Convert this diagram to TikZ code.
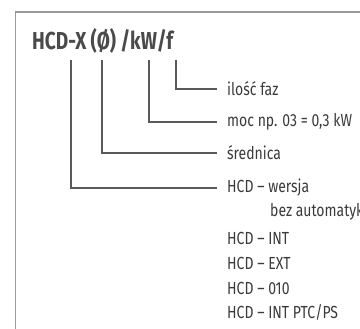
\documentclass[tikz,border=0pt]{standalone}
\usepackage{fontspec}
\setmainfont{Fira Sans}[FakeStretch=0.78]
\newfontfamily\lblfont{Fira Sans}[FakeStretch=0.8]
\definecolor{boxgray}{HTML}{9A9A9A}
\definecolor{linegray}{HTML}{5A5A5A}
\definecolor{txtgray}{HTML}{3A3A3A}
\definecolor{titlegray}{HTML}{4A4A4A}
\begin{document}
\begin{tikzpicture}[x=1pt,y=-1pt,
  lbl/.style={anchor=west,inner sep=0pt,text=txtgray,font=\lblfont\fontsize{17.5}{19}\selectfont},
  conn/.style={draw=linegray,line width=2pt},
  frame/.style={draw=boxgray,line width=1.5pt}]
\useasboundingbox (0,0) rectangle (360,329);
\begin{scope}
\clip (0,0) rectangle (360,329);
\draw[frame] (15.5,340) -- (15.5,12) -- (370,12);
\node[anchor=base west,inner sep=0pt,text=titlegray,font=\fontsize{24.5}{26}\selectfont\bfseries] (title) at (32,50) {HCD-X\,(Ø)\,/kW/f};
\coordinate (cX) at (71,60);
\coordinate (cD) at (102,60);
\coordinate (cK) at (149,60);
\coordinate (cF) at (176,60);
\node[lbl] (faz) at (227,89) {ilość faz};
\node[lbl] (moc) at (227,122) {moc np. 03 = 0,3 kW};
\node[lbl] (sred) at (227,153) {średnica};
\node[lbl] (wer) at (227,188) {HCD – wersja};
\node[lbl] (bez) at (270,212) {bez automatyki};
\node[lbl] (int) at (227,238) {HCD – INT};
\node[lbl] (ext) at (227,263) {HCD – EXT};
\node[lbl] (o10) at (227,288) {HCD – 010};
\node[lbl] (ptc) at (227,312) {HCD – INT PTC/PS};
\draw[conn] (cF) |- ([xshift=-10pt]faz.west);
\draw[conn] (cK) |- ([xshift=-10pt]moc.west);
\draw[conn] (cD) |- ([xshift=-10pt]sred.west);
\draw[conn] (cX) |- ([xshift=-10pt]wer.west);
\end{scope}
\end{tikzpicture}
\end{document}
